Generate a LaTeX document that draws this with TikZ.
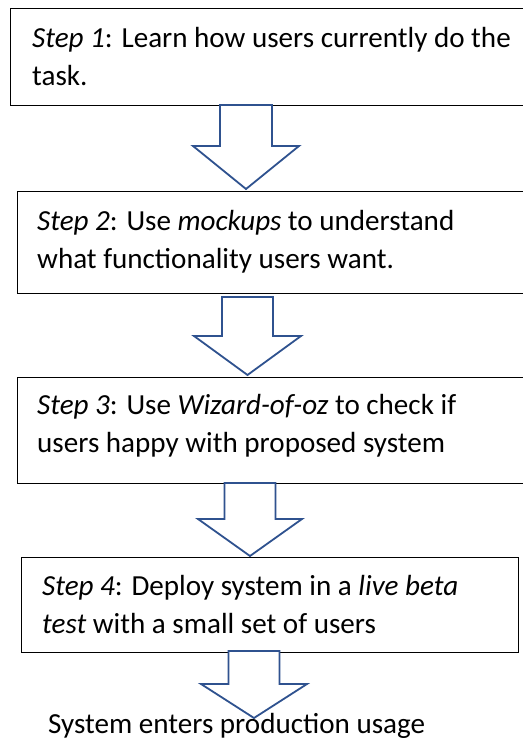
\documentclass[tikz,border=0pt]{standalone}
\usepackage{fontspec}
\setmainfont{Carlito}
\definecolor{arrowblue}{RGB}{47,82,143}
\newcommand\blockarrow[6]{%
  % #1 centre x, #2 top y, #3 shoulder y, #4 tip y, #5 half shaft, #6 half head
  \draw[blockarrow] ({#1-#5},#2) -- ({#1-#5},#3) -- ({#1-#6},#3) -- (#1,#4)
    -- ({#1+#6},#3) -- ({#1+#5},#3) -- ({#1+#5},#2) -- cycle;}
\begin{document}
\begin{tikzpicture}[x=1pt,y=-1pt,
  stepbox/.style={draw=black, line width=1.3pt, fill=white, inner sep=0pt,
    anchor=north west, rectangle},
  txt/.style={anchor=north west, inner sep=0pt, align=left,
    font=\fontsize{29.1}{38}\selectfont},
  blockarrow/.style={draw=arrowblue, line width=1.8pt, fill=white, line join=miter}]
\useasboundingbox (0,0) rectangle (522,749);
\fill[white] (0,0) rectangle (522,749);
% boxes
\node[stepbox, minimum width=515pt, minimum height=97pt] (b1) at (10,8) {};
\node[stepbox, minimum width=508pt, minimum height=102pt] (b2) at (17,191) {};
\node[stepbox, minimum width=508pt, minimum height=106pt] (b3) at (17,377) {};
\node[stepbox, minimum width=497pt, minimum height=95pt] (b4) at (21,557) {};
% texts (first baseline = node top + 28)
\node[txt] (t1) at (32,19) {\rule{0pt}{28pt}{\itshape Step 1}: Learn how users currently do the\\task.};
\node[txt] (t2) at (37,202) {\rule{0pt}{28pt}{\itshape Step 2}: Use \textit{mockups} to understand\\what functionality users want.};
\node[txt] (t3) at (37,386) {\rule{0pt}{28pt}{\itshape Step 3}: Use \textit{Wizard-of-oz} to check if\\users happy with proposed system};
\node[txt] (t4) at (42,567) {\rule{0pt}{28pt}{\itshape Step 4}: Deploy system in a \textit{live beta}\\\textit{test} with a small set of users};
\node[txt] (t5) at (48,705) {\rule{0pt}{28pt}System enters production usage};
% block arrows
\coordinate (a1) at (246,105);
\coordinate (a2) at (247.5,297);
\coordinate (a3) at (250,483);
\coordinate (a4) at (254,651);
\blockarrow{246}{105}{146}{189}{26}{53}
\blockarrow{247.5}{297}{336}{375}{25.5}{53.5}
\blockarrow{250}{483}{519}{556}{25.5}{52}
\blockarrow{254}{651}{684}{718}{25.5}{53}
\end{tikzpicture}
\end{document}
